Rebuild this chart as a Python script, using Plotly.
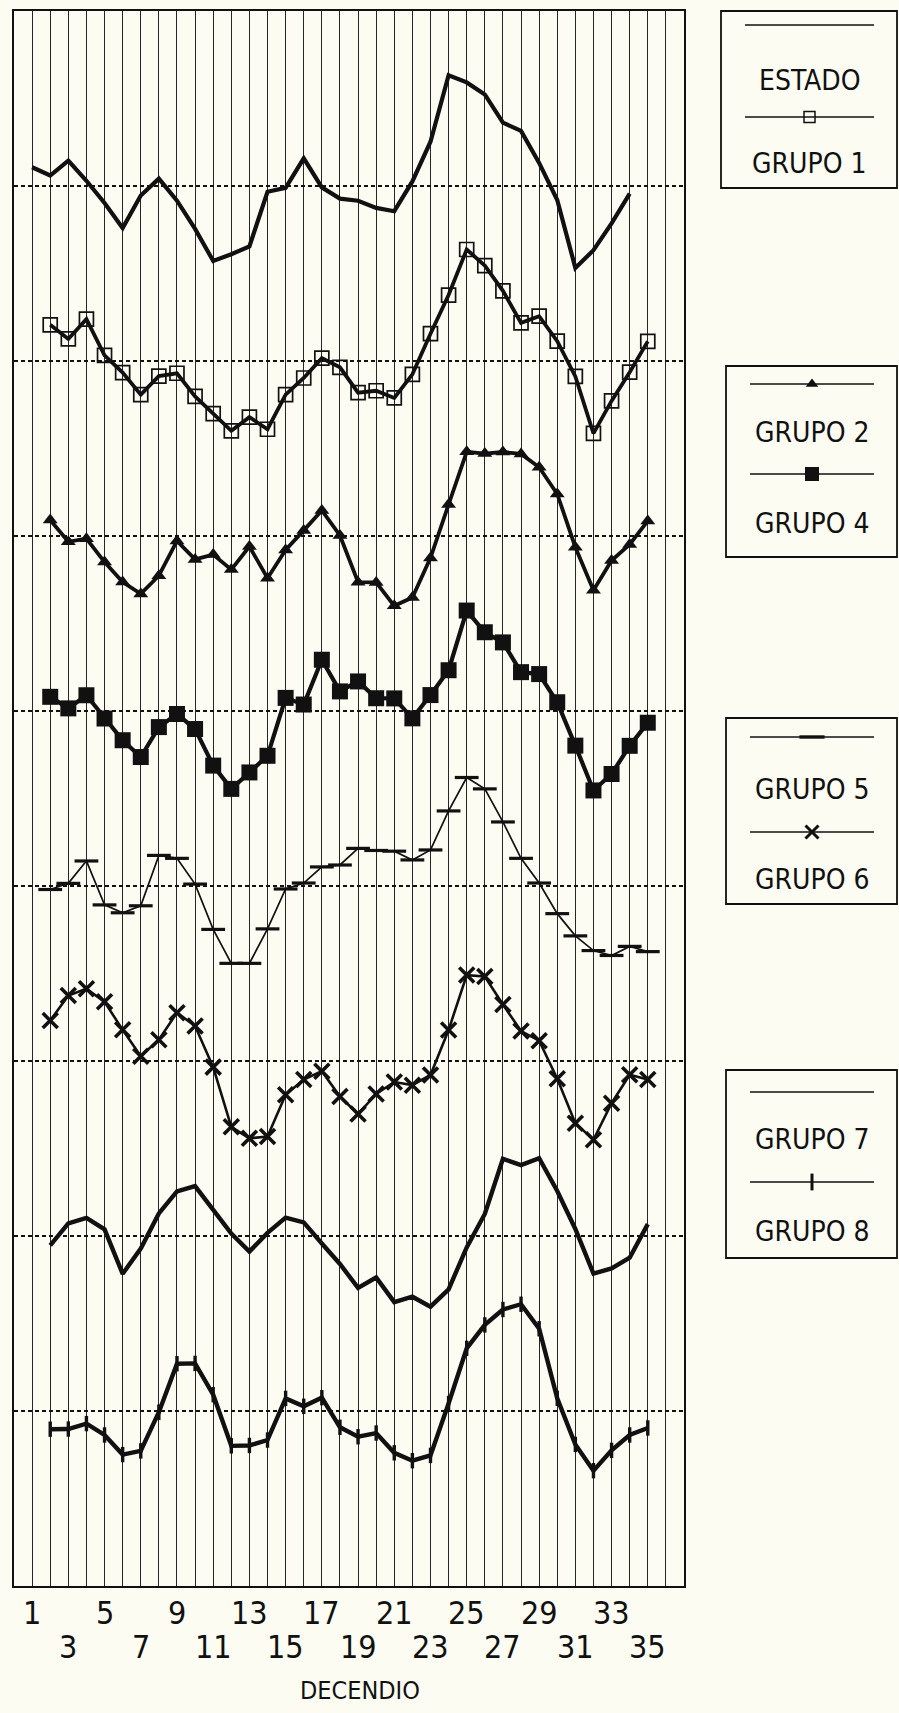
import plotly.graph_objects as go

# ---------------- data (anomalies in % of one grid band) ----------------
decendios_estado = list(range(1, 35))
decendios_grupos = list(range(2, 36))

estado = [10.7, 6.0, 14.5, 3.0, -9.7, -24.0, -5.4, 4.2, -8.4, -24.5, -42.8, -39.0, -34.5, -3.3,
          -1.1, 15.8, -0.8, -7.2, -8.4, -12.5, -14.4, 2.6, 25.3, 63.3, 59.2, 52.3, 36.2, 31.5,
          13.2, -8.0, -46.8, -36.7, -21.4, -4.4]
grupo1 = [20.7, 12.6, 23.9, 3.2, -6.6, -19.2, -8.6, -7.0, -20.2, -30.1, -39.9, -32.1, -39.0,
          -19.2, -9.7, 1.6, -3.6, -18.1, -17.0, -21.1, -7.6, 15.6, 37.7, 63.7, 54.5, 40.1, 21.8,
          25.6, 11.3, -8.8, -41.4, -22.8, -6.4, 11.2]
grupo2 = [9.1, -3.3, -1.5, -14.9, -26.3, -33.1, -22.7, -2.8, -13.4, -10.6, -19.2, -6.0, -24.1,
          -8.0, 3.2, 14.6, 0.3, -26.4, -26.5, -39.9, -35.2, -12.5, 18.0, 48.1, 47.1, 48.0, 46.9,
          39.3, 24.0, -6.4, -31.0, -14.0, -4.8, 8.6]
grupo4 = [8.1, 1.5, 9.0, -4.3, -16.7, -26.3, -9.2, -1.7, -10.3, -31.2, -44.5, -35.1, -25.6, 7.5,
          3.7, 29.3, 11.2, 16.9, 7.3, 7.2, -4.2, 9.1, 23.3, 57.4, 45.0, 39.2, 22.2, 21.1, 5.0,
          -19.8, -45.4, -36.0, -19.9, -6.7]
grupo5 = [-2.0, 1.5, 14.3, -10.8, -15.3, -11.3, 17.5, 15.8, 1.1, -24.8, -44.2, -44.2, -24.5, -1.7,
          1.7, 10.9, 12.0, 21.5, 20.3, 19.9, 14.9, 20.6, 42.9, 62.0, 55.5, 36.6, 15.8, 1.7, -15.8,
          -28.5, -36.9, -39.7, -34.5, -37.5]
grupo6 = [23.1, 37.4, 41.3, 33.8, 17.8, 2.7, 12.2, 27.6, 20.0, -3.5, -37.6, -44.2, -43.1, -19.3,
          -10.6, -5.8, -20.3, -30.3, -18.8, -12.0, -13.8, -8.0, 17.7, 49.1, 48.3, 32.3, 17.1, 11.6,
          -10.1, -35.6, -45.0, -24.1, -7.9, -10.6]
grupo7 = [-5.3, 7.2, 10.3, 3.8, -21.6, -7.2, 12.9, 25.5, 28.5, 14.5, 1.4, -8.9, 1.8, 10.5, 7.8,
          -4.3, -16.0, -29.6, -23.7, -37.8, -34.7, -40.4, -30.5, -6.5, 12.6, 44.1, 40.5, 44.5,
          25.7, 4.0, -21.5, -18.5, -12.4, 6.8]
grupo8 = [-10.4, -10.3, -7.2, -13.7, -24.9, -22.8, -0.7, 27.0, 27.2, 9.3, -19.9, -19.7, -16.6, 7.2,
          2.7, 7.6, -9.3, -14.7, -12.6, -23.9, -28.4, -25.4, 4.3, 35.8, 49.2, 58.0, 61.0, 47.0,
          7.3, -19.1, -34.1, -22.5, -13.7, -9.7]

series_names = ["ESTADO", "GRUPO 1", "GRUPO 2", "GRUPO 4", "GRUPO 5", "GRUPO 6", "GRUPO 7", "GRUPO 8"]
tick_labels = [str(i) for i in range(1, 36, 2)]
x_title = "DECENDIO"

# ---------------- styling / layout ----------------
W, H = 899, 1713
INK = "#111111"
BG = "#fdfcf3"
FONT = "Liberation Sans Narrow, 'DejaVu Sans Condensed', 'Arial Narrow', sans-serif"
PX_L, PX_R, PX_T, PX_B = 14, 684, 11, 1586


def fx(px):
    return px / W


def fy(py):
    return 1 - py / H


series = [
    (decendios_estado, estado, 8, dict(width=4.2), None),
    (decendios_grupos, grupo1, 7, dict(width=3.8),
     dict(symbol="square-open", size=14, color=INK, line=dict(width=1.7, color=INK))),
    (decendios_grupos, grupo2, 6, dict(width=3.8),
     dict(symbol="triangle-up", size=13, color=INK, line=dict(width=0))),
    (decendios_grupos, grupo4, 5, dict(width=4.2),
     dict(symbol="square", size=16, color=INK, line=dict(width=0))),
    (decendios_grupos, grupo5, 4, dict(width=1.7),
     dict(symbol="line-ew", size=17, color=INK, line=dict(width=3.2, color=INK))),
    (decendios_grupos, grupo6, 3, dict(width=2.6),
     dict(symbol="x-thin", size=15, color=INK, line=dict(width=3.6, color=INK))),
    (decendios_grupos, grupo7, 2, dict(width=4.4), None),
    (decendios_grupos, grupo8, 1, dict(width=4.4),
     dict(symbol="line-ns", size=11, color=INK, line=dict(width=3.4, color=INK))),
]

fig = go.Figure()
for (xs, vals, base, lstyle, mstyle), name in zip(series, series_names):
    fig.add_trace(go.Scatter(
        x=xs, y=[base + v / 100.0 for v in vals], name=name,
        mode="lines+markers" if mstyle else "lines",
        line=dict(color=INK, **lstyle),
        marker=mstyle if mstyle else None,
        showlegend=False, hoverinfo="skip",
    ))

# ---------------- legend boxes (drawn in a pixel-coordinate helper subplot) ----------------
L_X0 = 0.79 * W
legend_items = [
    (11, 188, 721, [(25, None, 80, "ESTADO"),
                    (117, dict(symbol="square-open", size=11, line=dict(width=1.5, color=INK)), 163, "GRUPO 1")]),
    (366, 557, 726, [(384, dict(symbol="triangle-up", size=11, line=dict(width=0)), 432, "GRUPO 2"),
                     (474, dict(symbol="square", size=14, line=dict(width=0)), 523, "GRUPO 4")]),
    (718, 904, 726, [(737, dict(symbol="line-ew", size=18, line=dict(width=3.4, color=INK)), 789, "GRUPO 5"),
                     (832, dict(symbol="x-thin", size=13, line=dict(width=3, color=INK)), 879, "GRUPO 6")]),
    (1070, 1258, 726, [(1092, None, 1139, "GRUPO 7"),
                       (1182, dict(symbol="line-ns", size=12, line=dict(width=3, color=INK)), 1231, "GRUPO 8")]),
]

shapes = []
annotations = []
for y0, y1, bx0, entries in legend_items:
    shapes.append(dict(type="rect", xref="paper", yref="paper",
                       x0=fx(bx0), x1=fx(897), y0=fy(y1), y1=fy(y0),
                       line=dict(color=INK, width=1.8), fillcolor="rgba(0,0,0,0)"))
    lx0 = bx0 + 24
    lx1 = 874
    cx = (lx0 + lx1) / 2
    for ly, mk, ty, label in entries:
        fig.add_trace(go.Scatter(x=[lx0, lx1], y=[ly, ly], mode="lines", xaxis="x2", yaxis="y2",
                                 line=dict(color=INK, width=1.6), showlegend=False, hoverinfo="skip"))
        if mk:
            fig.add_trace(go.Scatter(x=[cx], y=[ly], mode="markers", xaxis="x2", yaxis="y2",
                                     marker=dict(color=INK, **mk), showlegend=False, hoverinfo="skip"))
        annotations.append(dict(text=label, x=cx, y=ty, xref="x2", yref="y2",
                                showarrow=False, xanchor="center", yanchor="middle",
                                font=dict(family=FONT, size=28, color=INK)))

# ---------------- staggered x tick labels and axis title ----------------
for i in range(1, 36, 2):
    upper = ((i - 1) // 2) % 2 == 0
    annotations.append(dict(text=str(i), x=i, xref="x", y=fy(1613 if upper else 1647), yref="paper",
                            showarrow=False, xanchor="center", yanchor="middle",
                            font=dict(family=FONT, size=32, color=INK)))
annotations.append(dict(text=x_title, x=fx(360), y=fy(1690), xref="paper", yref="paper",
                        showarrow=False, xanchor="center", yanchor="middle",
                        font=dict(family=FONT, size=25, color=INK)))

fig.update_layout(
    width=W, height=H, autosize=False,
    margin=dict(l=0, r=0, t=0, b=0, pad=0),
    paper_bgcolor=BG, plot_bgcolor=BG,
    font=dict(family=FONT, color=INK),
    xaxis=dict(domain=[fx(PX_L), fx(PX_R)], range=[0, 37], tickmode="array",
               tickvals=list(range(1, 37)), showticklabels=False, ticks="",
               showgrid=True, gridcolor="#262626", gridwidth=1.4,
               showline=True, mirror=True, linecolor=INK, linewidth=2.2, zeroline=False,
               fixedrange=True),
    yaxis=dict(domain=[fy(PX_B), fy(PX_T)], range=[0, 9], tickmode="array",
               tickvals=list(range(1, 9)), showticklabels=False, ticks="",
               showgrid=True, gridcolor=INK, gridwidth=1.8, griddash="4px,3px",
               showline=True, mirror=True, linecolor=INK, linewidth=2.2, zeroline=False,
               fixedrange=True),
    xaxis2=dict(domain=[0.79, 1.0], range=[L_X0, W], visible=False, fixedrange=True),
    yaxis2=dict(domain=[0, 1], range=[H, 0], visible=False, fixedrange=True, anchor="x2"),
    shapes=shapes,
    annotations=annotations,
)

fig.write_html("out.html")
